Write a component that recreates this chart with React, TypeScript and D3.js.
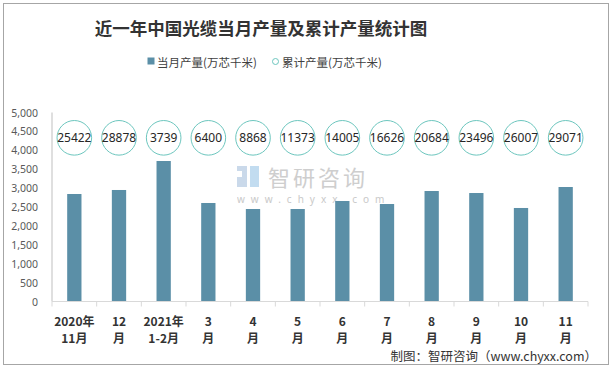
import React from "react";
import * as d3 from "d3";

const TITLE = "近一年中国光缆当月产量及累计产量统计图";
const SERIES_MONTHLY = "当月产量(万芯千米)";
const SERIES_CUMULATIVE = "累计产量(万芯千米)";
const SOURCE = "制图：智研咨询（www.chyxx.com）";

const categoryLine1 = ["2020年", "12", "2021年", "3", "4", "5", "6", "7", "8", "9", "10", "11"];
const categoryLine2 = ["11月", "月", "1-2月", "月", "月", "月", "月", "月", "月", "月", "月", "月"];
const monthlyValues = [2844, 2950, 3717, 2606, 2447, 2447, 2659, 2579, 2923, 2870, 2474, 3029];
const cumulativeValues = [25422, 28878, 3739, 6400, 8868, 11373, 14005, 16626, 20684, 23496, 26007, 29071];
const yTickValues = [0, 500, 1000, 1500, 2000, 2500, 3000, 3500, 4000, 4500, 5000];
const yMax = 5000;
const bubbleRowValue = 4330; // vertical level of the cumulative bubbles (on bar axis)

const W = 612;
const H = 368;
const CJK = "'Noto Sans CJK SC', 'Noto Sans', sans-serif";
const BAR_COLOR = "#5b8fa7";
const CIRCLE_COLOR = "#6cc6be";

export default function App() {
  const idx = d3.range(categoryLine1.length);
  const x = d3
    .scaleBand<number>()
    .domain(idx)
    .range([52, 588])
    .paddingInner(0.68)
    .paddingOuter(0.34);
  const step = x.step();
  const y = d3.scaleLinear().domain([0, yMax]).range([301.5, 112.5]);
  const fmt = d3.format(",");
  const cx = (i: number) => (x(i) as number) + x.bandwidth() / 2;

  return (
    <svg
      width={W}
      height={H}
      style={{ position: "absolute", left: 0, top: 0, background: "#fff" }}
    >
      <rect x={0} y={0} width={W} height={H} fill="#fff" />
      <rect x={3.5} y={3.5} width={605} height={361} fill="none" stroke="#a6a6a6" strokeWidth={1} />

      {/* Title */}
      <text
        x={261}
        y={27}
        textAnchor="middle"
        dominantBaseline="central"
        fontFamily={CJK}
        fontWeight="bold"
        fontSize={17.5}
        fill="#333"
      >
        {TITLE}
      </text>

      {/* Legend */}
      <rect x={147.5} y={57.5} width={7} height={7} fill={BAR_COLOR} />
      <text x={157} y={61.5} dominantBaseline="central" fontFamily={CJK} fontSize={11.5} fill="#404040">
        {SERIES_MONTHLY}
      </text>
      <circle cx={275.5} cy={61.5} r={3} fill="#fff" stroke={CIRCLE_COLOR} strokeWidth={1} />
      <text x={282} y={61.5} dominantBaseline="central" fontFamily={CJK} fontSize={11.5} fill="#404040">
        {SERIES_CUMULATIVE}
      </text>

      {/* Watermark */}
      <g opacity={0.9}>
        <rect x={237} y={166} width={10} height={5} fill="#c5d5e8" />
        <rect x={242} y={171} width={5} height={6} fill="#c5d5e8" />
        <rect x={237} y={177} width={10} height={10} fill="#c5d5e8" />
        <rect x={250} y={166} width={9} height={21} fill="#bcd9ef" />
        <text x={268} y={176} dominantBaseline="central" fontFamily={CJK} fontSize={22} letterSpacing={3} fill="#c9c9c9">
          智研咨询
        </text>
        <text x={237} y={199} dominantBaseline="central" fontFamily="'Noto Sans', sans-serif" fontSize={10} letterSpacing={6} fill="#c4c4c4">
          www.chyxx.com
        </text>
      </g>

      {/* Y axis */}
      <line x1={52} x2={52} y1={y(yMax)} y2={y(0)} stroke="#bfbfbf" strokeWidth={1} />
      {yTickValues.map((v) => (
        <text
          key={v}
          x={38}
          y={y(v)}
          textAnchor="end"
          dominantBaseline="central"
          fontFamily="'Noto Sans', sans-serif"
          fontSize={10.5}
          fill="#595959"
        >
          {fmt(v)}
        </text>
      ))}

      {/* Bars */}
      {monthlyValues.map((v, i) => (
        <rect
          key={i}
          x={x(i) as number}
          y={y(v)}
          width={x.bandwidth()}
          height={y(0) - y(v)}
          fill={BAR_COLOR}
        />
      ))}

      {/* X axis */}
      <line x1={52} x2={588} y1={y(0)} y2={y(0)} stroke="#d9d9d9" strokeWidth={1} />
      {d3.range(categoryLine1.length + 1).map((k) => (
        <line
          key={k}
          x1={52 + k * step}
          x2={52 + k * step}
          y1={y(0)}
          y2={y(0) + 5}
          stroke="#d9d9d9"
          strokeWidth={1}
        />
      ))}
      {idx.map((i) => (
        <g key={i} fontFamily={CJK} fontWeight="bold" fontSize={12} fill="#333" textAnchor="middle">
          <text x={cx(i)} y={320} dominantBaseline="central">
            {categoryLine1[i]}
          </text>
          <text x={cx(i)} y={337.5} dominantBaseline="central">
            {categoryLine2[i]}
          </text>
        </g>
      ))}

      {/* Cumulative bubbles */}
      {cumulativeValues.map((v, i) => (
        <g key={i}>
          <circle cx={cx(i)} cy={y(bubbleRowValue)} r={17.3} fill="none" stroke={CIRCLE_COLOR} strokeWidth={1} />
          <text
            x={cx(i)}
            y={y(bubbleRowValue)}
            textAnchor="middle"
            dominantBaseline="central"
            fontFamily="'Noto Sans', sans-serif"
            fontSize={12}
            fill="#262626"
          >
            {v}
          </text>
        </g>
      ))}

      {/* Source */}
      <text
        x={597}
        y={355}
        textAnchor="end"
        dominantBaseline="central"
        fontFamily={CJK}
        fontSize={12.5}
        fill="#333"
      >
        {SOURCE}
      </text>
    </svg>
  );
}
